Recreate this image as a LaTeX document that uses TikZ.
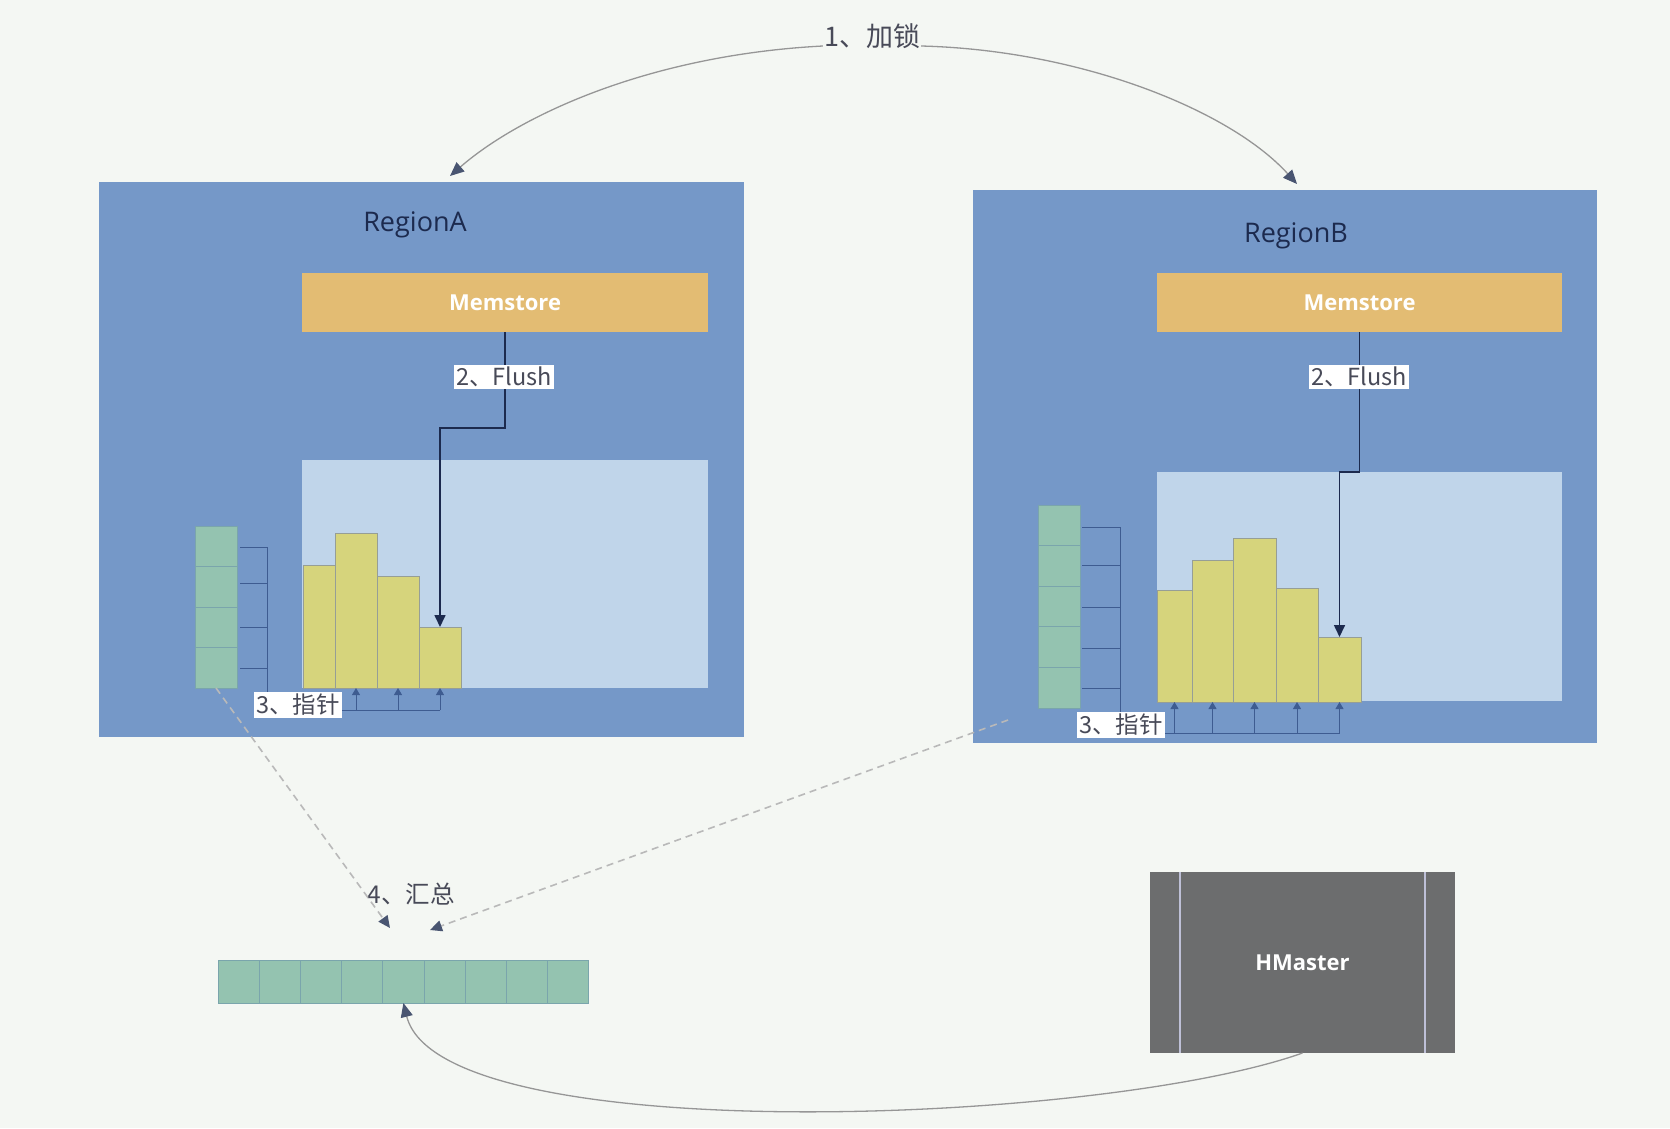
\documentclass[tikz,border=0pt]{standalone}
\usepackage{fontspec}
\setmainfont{Noto Sans CJK SC}
\newfontfamily\latinfont{Open Sans}
\usepackage{tikz}
\usetikzlibrary{arrows.meta, positioning, calc}
\definecolor{hbbg}{RGB}{244,247,243}
\definecolor{hbregion}{RGB}{117,152,200}
\definecolor{hbmem}{RGB}{227,188,115}
\definecolor{hbpanel}{RGB}{192,213,234}
\definecolor{hbbar}{RGB}{214,212,124}
\definecolor{hbbarline}{RGB}{150,158,150}
\definecolor{hbcell}{RGB}{148,195,176}
\definecolor{hbcellline}{RGB}{122,165,172}
\definecolor{hbcomb}{RGB}{62,92,145}
\definecolor{hbnavy}{RGB}{28,42,78}
\definecolor{hbtext}{RGB}{72,74,88}
\definecolor{hbcurve}{RGB}{150,150,150}
\definecolor{hbdash}{RGB}{185,185,185}
\definecolor{hbmaster}{RGB}{108,109,110}
\definecolor{hbmasterline}{RGB}{190,192,215}

\tikzset{
  blk/.style={inner sep=0pt, outer sep=0pt, anchor=north west},
  regionbox/.style={blk, fill=hbregion},
  regionlbl/.style={text=hbnavy, font=\latinfont\fontsize{27}{32}\selectfont},
  membox/.style={blk, fill=hbmem, text=white, font=\latinfont\bfseries\fontsize{22}{26}\selectfont},
  panelbox/.style={blk, fill=hbpanel},
  barbox/.style={inner sep=0pt, outer sep=0pt, anchor=south west, fill=hbbar, draw=hbbarline, line width=0.8pt},
  cellbox/.style={blk, fill=hbcell, draw=hbcellline, line width=0.8pt},
  steplbl/.style={fill=white, text=hbtext, inner sep=2pt, font=\fontsize{23.5}{27}\selectfont},
  comb/.style={draw=hbcomb, line width=1pt},
  ptr/.style={comb, -{Triangle[width=8pt,length=7pt]}},
  flush/.style={draw=hbnavy, line width=1.6pt, -{Triangle[width=11pt,length=12pt]}},
  linkdash/.style={draw=hbdash, line width=1.6pt, dash pattern=on 7pt off 5pt,
    -{Triangle[width=11pt,length=12pt,color=hbnavy!80]}},
  curvelink/.style={draw=hbcurve, line width=1.3pt,
    -{Triangle[width=12pt,length=14pt,color=hbnavy!80]}},
  masterbox/.style={blk, fill=hbmaster, text=white, font=\latinfont\bfseries\fontsize{22}{26}\selectfont},
}

\begin{document}
\begin{tikzpicture}[x=1pt, y=-1pt]
% canvas
\fill[hbbg] (0,0) rectangle (1670,1128);
\useasboundingbox (0,0) rectangle (1670,1128);

% ---- region A ----
\node[regionbox, minimum width=645pt, minimum height=555pt] (regionA) at (99,182) {};
\node[regionlbl] (lblA) at (415,225) {RegionA};
\node[membox, minimum width=406pt, minimum height=59pt] (memA) at (302,273) {Memstore};
\node[panelbox, minimum width=406pt, minimum height=228pt] (panelA) at (302,460) {};

\foreach \i/\x/\w/\h in {1/303/32/123, 2/335/42/155, 3/377/42/112, 4/419/42/61}{
  \node[barbox, minimum width=\w pt, minimum height=\h pt] (barA\i) at (\x,688) {};
}
\foreach \k in {0,...,3}{
  \node[cellbox, minimum width=42pt, minimum height=40.5pt] (colA\k) at (195,{526+40.5*\k}) {};
}

% pointers A
\foreach \y in {547,583,627,668}{
  \draw[comb] (240,\y) -- (267,\y);
}
\coordinate (combA) at (267,710);
\draw[comb] (267,547) -- (combA) -- (barA4.south |- combA);
\foreach \i in {2,...,4}{
  \draw[ptr] (barA\i.south |- combA) -- (barA\i.south);
}

% flush A
\draw[flush] (memA.south) -- ++(0,96) -| (barA4.north);
\node[steplbl] (flushA) at (504,377) {2、Flush};
\node[steplbl, anchor=north west] (ptrA) at (254,692) {3、指针};

% ---- region B ----
\node[regionbox, minimum width=624pt, minimum height=553pt] (regionB) at (973,190) {};
\node[regionlbl] (lblB) at (1296,236) {RegionB};
\node[membox, minimum width=405pt, minimum height=59pt] (memB) at (1157,273) {Memstore};
\node[panelbox, minimum width=405pt, minimum height=229pt] (panelB) at (1157,472) {};

\foreach \i/\x/\w/\h in {1/1157/35/112, 2/1192/41/142, 3/1233/43/164, 4/1276/42/114, 5/1318/43/65}{
  \node[barbox, minimum width=\w pt, minimum height=\h pt] (barB\i) at (\x,702) {};
}
\foreach \k in {0,...,4}{
  \node[cellbox, minimum width=42pt, minimum height=40.6pt] (colB\k) at (1038,{505+40.6*\k}) {};
}

% pointers B
\foreach \y in {527,565,607,648,688}{
  \draw[comb] (1082,\y) -- (1120,\y);
}
\coordinate (combB) at (1120,733);
\draw[comb] (1120,527) -- (combB) -- (barB5.south |- combB);
\foreach \i in {1,...,5}{
  \draw[ptr] (barB\i.south |- combB) -- (barB\i.south);
}

% flush B
\draw[flush] (memB.south) -- ++(0,140) -| (barB5.north);
\node[steplbl] (flushB) at (1359,377) {2、Flush};
\node[steplbl, anchor=north west] (ptrB) at (1077,712) {3、指针};

% ---- merge ----
\foreach \k in {0,...,8}{
  \node[cellbox, minimum width=41.2pt, minimum height=43pt] (sum\k) at ({218+41.2*\k},960) {};
}
\node[text=hbtext, font=\fontsize{24.5}{28}\selectfont] (sumlbl) at (411,894) {4、汇总};
\coordinate (sumA) at (390,928);
\coordinate (sumB) at (430,930);
\draw[linkdash] (colA3.south) -- (sumA);
\draw[linkdash] ($(colB4.south west)+(-30,12)$) -- (sumB);

% ---- master ----
\node[masterbox, minimum width=305pt, minimum height=181pt] (hmaster) at (1150,872) {HMaster};
\draw[hbmasterline, line width=1.5pt] ([xshift=30pt]hmaster.north west) -- ([xshift=30pt]hmaster.south west);
\draw[hbmasterline, line width=1.5pt] ([xshift=-30pt]hmaster.north east) -- ([xshift=-30pt]hmaster.south east);
\draw[curvelink] (hmaster.south) .. controls (1100,1125) and (440,1150) .. (sum4.south);

% ---- lock ----
\node[text=hbtext, inner sep=1pt, anchor=base, font=\fontsize{27}{32}\selectfont] (lock) at (872,46) {1、加锁};
\coordinate (lockA) at (450,176);
\coordinate (lockB) at (1297,184);
\draw[curvelink] (lock.base west) .. controls (650,55) and (520,115) .. (lockA);
\draw[curvelink] (lock.base east) .. controls (1080,50) and (1230,110) .. (lockB);
\end{tikzpicture}
\end{document}
